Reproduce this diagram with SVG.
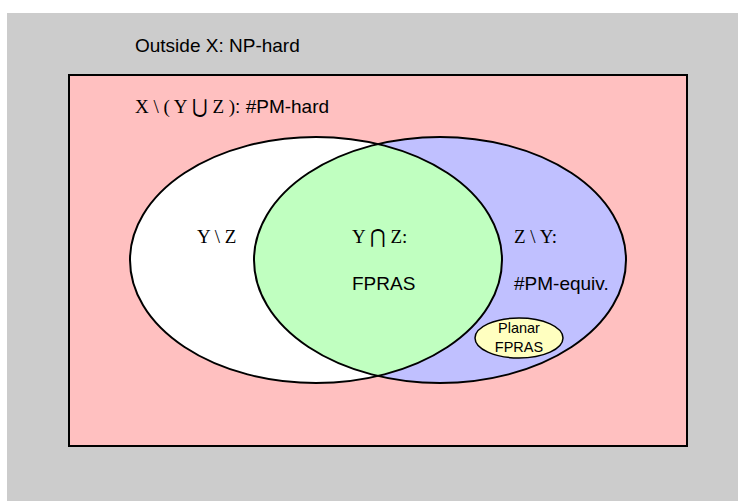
<svg xmlns="http://www.w3.org/2000/svg" width="738" height="501" viewBox="0 0 738 501">
<style>
.t{font-family:"Liberation Sans",Arial,sans-serif;font-size:19px;fill:#000}
.m{font-family:"Liberation Serif","Times New Roman",serif;font-size:19px}
.s{font-family:"Liberation Sans",Arial,sans-serif;font-size:14.5px;fill:#000}
.e{stroke:#000;stroke-width:2}
</style>
<rect width="738" height="501" fill="#fff"/>
<g id="outside">
<rect x="7" y="13" width="731" height="488" fill="#cccccc"/>
<text class="t" x="135" y="52">Outside X: NP-hard</text>
</g>
<g id="X">
<rect x="69" y="75" width="618" height="371" fill="#ffc0c0" stroke="#000" stroke-width="2"/>
<text class="t" x="135" y="113"><tspan class="m">X \ ( Y ⋃ Z )</tspan>: #PM-hard</text>
</g>
<g id="Y">
<ellipse cx="316" cy="260" rx="186" ry="123" fill="#ffffff"/>
</g>
<g id="Z">
<ellipse cx="440" cy="260" rx="186" ry="123" fill="#c0c0ff"/>
</g>
<g id="YZ">
<path d="M378 144 A186 123 0 0 1 378 376 A186 123 0 0 1 378 144 Z" fill="#c0ffc0"/>
</g>
<g id="outlines" fill="none">
<ellipse class="e" cx="316" cy="260" rx="186" ry="123"/>
<ellipse class="e" cx="440" cy="260" rx="186" ry="123"/>
</g>
<g id="labels">
<text class="t m" x="197" y="243">Y \ Z</text>
<text class="t m" x="352" y="243">Y ⋂ Z:</text>
<text class="t" x="352" y="290">FPRAS</text>
<text class="t m" x="514" y="243">Z \ Y:</text>
<text class="t" x="514" y="290">#PM-equiv.</text>
</g>
<g id="planar">
<ellipse cx="519" cy="338" rx="44" ry="20" fill="#ffffc0" stroke="#000" stroke-width="1.5"/>
<text class="s" x="519" y="333" text-anchor="middle">Planar</text>
<text class="s" x="519" y="352" text-anchor="middle">FPRAS</text>
</g>
</svg>
